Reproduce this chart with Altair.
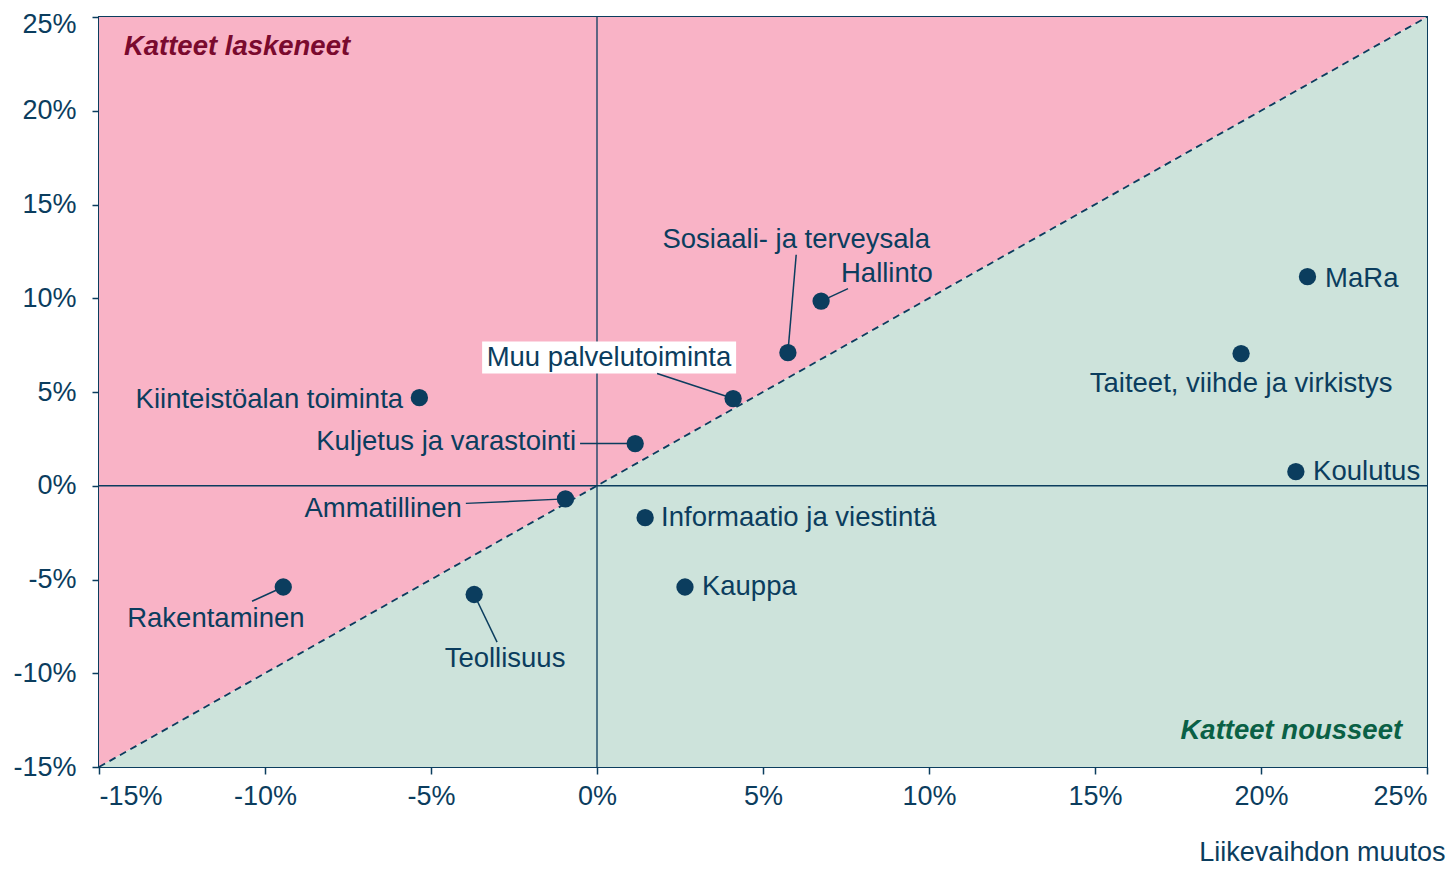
import altair as alt
import pandas as pd

# Sector data (% change): revenue change (x) and margin change (y)
sectors = ["MaRa", "Taiteet, viihde ja virkistys", "Koulutus", "Hallinto",
           "Sosiaali- ja terveysala", "Muu palvelutoiminta", "Kiinteistöalan toiminta",
           "Kuljetus ja varastointi", "Ammatillinen", "Informaatio ja viestintä",
           "Kauppa", "Rakentaminen", "Teollisuus"]
revenue_change = [21.4, 19.4, 21.05, 6.75, 5.75, 4.1, -5.35, 1.15, -0.95, 1.45, 2.65, -9.45, -3.7]
margin_change = [11.15, 7.05, 0.75, 9.85, 7.1, 4.65, 4.7, 2.25, -0.7, -1.7, -5.4, -5.4, -5.8]

# Label anchor positions (data units) and alignment
label_x = [21.93, 19.40, 21.57, 8.73, 6.0, 0.36, -5.84, -0.63, -4.07, 1.93, 3.16, -11.48, -2.77]
label_y = [11.05, 5.45, 0.71, 11.31, 13.12, 6.84, 4.60, 2.31, -1.26, -1.74, -5.41, -7.12, -9.25]
label_align = ["left", "center", "left", "center", "center", "center", "right",
               "right", "right", "left", "left", "center", "center"]

# Leader line ends (None = no leader)
leader_x = [None, None, None, 7.56, 6.0, 1.81, None, -0.51, -3.95, None, None, -10.39, -3.01]
leader_y = [None, None, None, 10.51, 12.32, 5.99, None, 2.26, -0.94, None, None, -6.16, -8.34]

axis_ticks = [-15, -10, -5, 0, 5, 10, 15, 20, 25]
domain = [-15, 25]

NAVY = "#0B3D5E"
PINK = "#F9B3C6"
GREEN = "#CDE3DB"
FONT = "Liberation Sans"
FS = 27.5
TFS = 27

df = pd.DataFrame({"sector": sectors, "x": revenue_change, "y": margin_change,
                   "lx": label_x, "ly": label_y, "align": label_align,
                   "ex": leader_x, "ey": leader_y})
diag = pd.DataFrame({"x": domain})

xs = alt.Scale(domain=domain, nice=False, zero=False)
ys = alt.Scale(domain=domain, nice=False, zero=False)

xaxis = alt.Axis(values=axis_ticks, labelExpr="datum.value + '%'", grid=False, domain=False,
                 tickColor=NAVY, tickSize=7, tickWidth=1.5, labelColor=NAVY, labelFont=FONT,
                 labelFontSize=TFS, labelPadding=9, title="Liikevaihdon muutos",
                 titleFont=FONT, titleFontSize=TFS, titleFontWeight="normal", titleColor=NAVY,
                 titleAnchor="end", titleAlign="right", titleX=1346, titleY=93,
                 titleBaseline="alphabetic")
yaxis = alt.Axis(values=axis_ticks, labelExpr="datum.value + '%'", grid=False, domain=False,
                 tickColor=NAVY, tickSize=7, tickWidth=1.5, labelColor=NAVY, labelFont=FONT,
                 labelFontSize=TFS, labelPadding=16, title=None,
                 labelOffset={"condition": {"test": "datum.value == 25", "value": 7}, "value": 0})

base = alt.Chart(diag)
pink = base.mark_area(color=PINK, opacity=1).encode(
    x=alt.X("x:Q", scale=xs, axis=xaxis), y=alt.Y("x:Q", scale=ys, axis=yaxis), y2=alt.datum(25))
green = base.mark_area(color=GREEN, opacity=1).encode(
    x=alt.X("x:Q", scale=xs), y=alt.Y("x:Q", scale=ys), y2=alt.datum(-15))
dline = base.mark_line(color=NAVY, strokeDash=[7, 5], strokeWidth=1.8).encode(
    x=alt.X("x:Q", scale=xs), y=alt.Y("x:Q", scale=ys))

vzero = alt.Chart(pd.DataFrame({"v": [0]})).mark_rule(color=NAVY, strokeWidth=1.3).encode(
    x=alt.X("v:Q", scale=xs))
hzero = alt.Chart(pd.DataFrame({"v": [0]})).mark_rule(color=NAVY, strokeWidth=1.3).encode(
    y=alt.Y("v:Q", scale=ys))

# white box behind "Muu palvelutoiminta"
box = alt.Chart(pd.DataFrame({"x1": [-3.46], "x2": [4.19], "y1": [5.99], "y2": [7.69]})).mark_rect(
    color="white").encode(x=alt.X("x1:Q", scale=xs), x2="x2:Q", y=alt.Y("y1:Q", scale=ys), y2="y2:Q")

leaders = alt.Chart(df).transform_filter("datum.ex != null").mark_rule(
    color=NAVY, strokeWidth=1.5).encode(
    x=alt.X("x:Q", scale=xs), y=alt.Y("y:Q", scale=ys), x2="ex:Q", y2="ey:Q")

points = alt.Chart(df).mark_circle(color=NAVY, opacity=1, size=300).encode(
    x=alt.X("x:Q", scale=xs), y=alt.Y("y:Q", scale=ys))

def labels(al):
    return alt.Chart(df).transform_filter(f"datum.align == '{al}'").mark_text(
        align=al, baseline="middle", font=FONT, fontSize=FS, color=NAVY).encode(
        x=alt.X("lx:Q", scale=xs), y=alt.Y("ly:Q", scale=ys), text="sector:N")

corner = pd.DataFrame({"t": ["Katteet laskeneet", "Katteet nousseet"],
                       "x": [-14.25, 24.25], "y": [23.4, -13.1]})
title_up = alt.Chart(corner.iloc[[0]]).mark_text(
    align="left", baseline="middle", font=FONT, fontSize=FS, fontStyle="italic",
    fontWeight="bold", color="#7A0A2E").encode(
    x=alt.X("x:Q", scale=xs), y=alt.Y("y:Q", scale=ys), text="t:N")
title_down = alt.Chart(corner.iloc[[1]]).mark_text(
    align="right", baseline="middle", font=FONT, fontSize=FS, fontStyle="italic",
    fontWeight="bold", color="#0A6045").encode(
    x=alt.X("x:Q", scale=xs), y=alt.Y("y:Q", scale=ys), text="t:N")

chart = alt.layer(pink, green, dline, vzero, hzero, box, leaders, points,
                  labels("left"), labels("center"), labels("right"), title_up, title_down).properties(
    width=1328, height=750,
    autosize=alt.AutoSizeParams(type="none"),
    padding={"left": 91, "top": 9, "right": 20, "bottom": 98},
    background="white",
).configure_view(stroke=NAVY, strokeWidth=2)

chart.save("out.html", embed_options={"renderer": "svg", "actions": False})
